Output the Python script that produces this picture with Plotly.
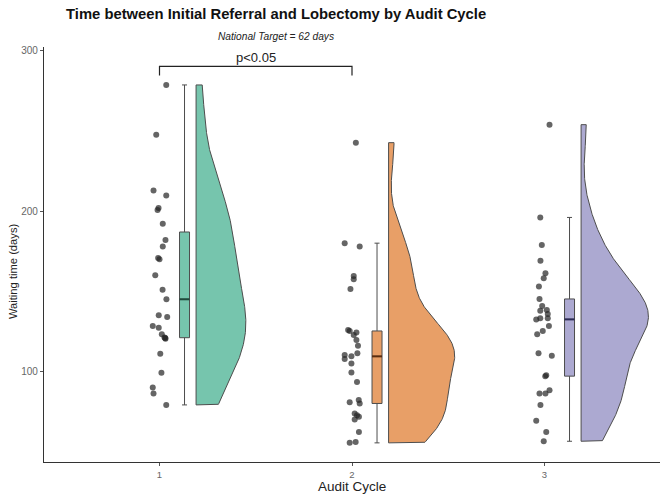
import numpy as np
import plotly.graph_objects as go

# ---------------- data ----------------
cycles = [1, 2, 3]
tick_labels = ["1", "2", "3"]

wait_c1 = [278.4, 247.5, 212.8, 209.7, 201.8, 200.7, 192.0, 181.9, 177.9, 170.8, 170.0,
           160.0, 151.0, 145.1, 135.1, 134.1, 128.5, 127.4, 123.3, 121.4, 121.0, 120.6,
           111.2, 99.4, 90.3, 86.5, 79.4]
jit_c1 = [0.035, -0.017, -0.031, 0.035, -0.005, -0.010, 0.017, 0.031, 0.017, -0.007, 0.0,
          -0.022, 0.016, 0.036, -0.004, 0.040, -0.035, -0.004, 0.012, 0.026, 0.030, 0.031,
          0.004, 0.010, -0.035, -0.031, 0.035]

wait_c2 = [242.5, 180.0, 177.9, 159.6, 157.6, 151.5, 126.0, 125.4, 124.5, 122.9, 119.8,
           116.2, 111.5, 110.4, 107.9, 109.6, 105.2, 99.6, 93.6, 82.4, 81.0, 74.1, 73.0,
           80.3, 70.3, 72.0, 62.6, 55.8, 56.4]
jit_c2 = [0.020, -0.038, 0.040, 0.009, 0.009, -0.008, -0.020, -0.012, 0.023, 0.009, 0.023,
          0.031, 0.028, -0.038, -0.038, -0.003, -0.003, -0.003, 0.026, 0.035, -0.012, 0.014,
          0.026, 0.040, 0.014, 0.036, 0.036, -0.012, 0.019]

wait_c3 = [253.7, 196.0, 178.9, 169.0, 161.3, 158.2, 153.0, 145.3, 140.9, 138.0, 138.4,
           135.9, 132.6, 133.3, 133.3, 128.5, 125.4, 123.3, 111.5, 110.0, 97.9, 97.3, 86.5,
           86.5, 88.6, 79.4, 69.5, 62.6, 56.8]
jit_c3 = [0.026, -0.022, -0.014, -0.021, 0.005, -0.004, -0.029, -0.026, -0.012, -0.022, 0.012,
          0.017, -0.043, -0.022, 0.017, 0.023, -0.009, -0.038, -0.031, 0.038, 0.009, 0.004,
          -0.026, 0.005, 0.026, -0.021, -0.043, 0.009, -0.004]

groups = [wait_c1, wait_c2, wait_c3]
jitters = [jit_c1, jit_c2, jit_c3]
fills = ["#76C5AD", "#E89F67", "#ACA9D1"]
median_cols = ["#1f4a3c", "#5a2d10", "#2b2a55"]

p_label = "p<0.05"
bracket_y = 290.0
bracket_tip = 284.3

# ---------------- style ----------------
FONT = "Liberation Sans, Arial, sans-serif"
VIOLIN_NUDGE = 0.19
VIOLIN_HALF = 0.35
BOX_NUDGE = 0.13
BOX_WIDTH = 0.052
OUTLINE = "#4d4d4d"
BW_ADJUST = 1.1


def nrd0(x):
    x = np.asarray(x, float)
    sd = x.std(ddof=1)
    iqr = np.subtract(*np.percentile(x, [75, 25]))
    return 0.9 * min(sd, iqr / 1.34) * len(x) ** (-0.2)


def kde(x, grid):
    x = np.asarray(x, float)
    bw = nrd0(x) * BW_ADJUST
    z = (grid[:, None] - x[None, :]) / bw
    return np.exp(-0.5 * z ** 2).sum(axis=1) / (len(x) * bw * np.sqrt(2 * np.pi))


def box_stats(x):
    x = np.sort(np.asarray(x, float))
    q1, med, q3 = np.percentile(x, [25, 50, 75])
    iqr = q3 - q1
    lo = x[x >= q1 - 1.5 * iqr].min()
    hi = x[x <= q3 + 1.5 * iqr].max()
    return q1, med, q3, lo, hi


grids, dens = [], []
for g in groups:
    grid = np.linspace(min(g), max(g), 512)
    grids.append(grid)
    dens.append(kde(g, grid))
dmax = max(d.max() for d in dens)

fig = go.Figure()

for pos, g, jit, col, mcol, grid, d in zip(cycles, groups, jitters, fills, median_cols, grids, dens):
    base = pos + VIOLIN_NUDGE
    vx = np.concatenate([[base], base + d / dmax * VIOLIN_HALF, [base, base]])
    vy = np.concatenate([[grid[0]], grid, [grid[-1], grid[0]]])
    fig.add_trace(go.Scatter(x=vx, y=vy, mode="lines", fill="toself", fillcolor=col,
                             line=dict(color=OUTLINE, width=1), hoverinfo="skip",
                             showlegend=False))
    q1, med, q3, lo, hi = box_stats(g)
    fig.add_trace(go.Box(x=[pos + BOX_NUDGE], q1=[q1], median=[med], q3=[q3],
                         lowerfence=[lo], upperfence=[hi], width=BOX_WIDTH,
                         fillcolor=col, line=dict(color=OUTLINE, width=1),
                         boxpoints=False, showlegend=False))
    bx = pos + BOX_NUDGE
    fig.add_trace(go.Scatter(x=[bx - BOX_WIDTH / 2, bx + BOX_WIDTH / 2], y=[med, med],
                             mode="lines", line=dict(color=mcol, width=2),
                             hoverinfo="skip", showlegend=False))
    fig.add_trace(go.Scatter(x=[pos + j for j in jit], y=g, mode="markers",
                             marker=dict(size=6, color="rgba(35,35,35,0.7)"),
                             showlegend=False, hoverinfo="skip"))

# significance bracket
fig.add_shape(type="path",
              path=f"M {cycles[0]},{bracket_tip} L {cycles[0]},{bracket_y} "
                   f"L {cycles[1]},{bracket_y} L {cycles[1]},{bracket_tip}",
              xref="x", yref="y", line=dict(color="#222", width=1.2))
fig.add_annotation(x=(cycles[0] + cycles[1]) / 2, y=bracket_y, text=p_label,
                   showarrow=False, yanchor="bottom", yshift=-1,
                   font=dict(family=FONT, size=13, color="#222"))

# titles
fig.add_annotation(xref="paper", yref="paper", x=0.3766, y=1.0795,
                   text="<b>Time between Initial Referral and Lobectomy by Audit Cycle</b>",
                   showarrow=False, xanchor="center", yanchor="middle",
                   font=dict(family=FONT, size=14.8, color="#111"))
fig.add_annotation(xref="paper", yref="paper", x=0.3766, y=1.0265,
                   text="<i>National Target = 62 days</i>",
                   showarrow=False, xanchor="center", yanchor="middle",
                   font=dict(family=FONT, size=10.2, color="#222"))
fig.add_annotation(xref="paper", yref="paper", x=-0.0503, y=0.46,
                   text="Waiting time (days)", textangle=-90,
                   showarrow=False, xanchor="center", yanchor="middle",
                   font=dict(family=FONT, size=11.2, color="#222"))
fig.add_annotation(xref="paper", yref="paper", x=0.5, y=-0.06,
                   text="Audit Cycle",
                   showarrow=False, xanchor="center", yanchor="middle",
                   font=dict(family=FONT, size=13.5, color="#222"))

axis_common = dict(showline=True, linecolor="#333", linewidth=1.3, showgrid=False,
                   zeroline=False, ticks="outside", ticklen=3, tickcolor="#555")
fig.update_layout(
    width=666, height=501,
    margin=dict(l=44, r=6, t=47, b=39),
    plot_bgcolor="white", paper_bgcolor="white",
    xaxis=dict(range=[0.4, 3.6], tickvals=cycles, ticktext=tick_labels,
               tickfont=dict(family=FONT, size=9.5, color="#666"), **axis_common),
    yaxis=dict(range=[43.9, 302], tickvals=[100, 200, 300],
               tickfont=dict(family=FONT, size=10, color="#666"), **axis_common),
    showlegend=False,
)

fig.write_html("out.html")
